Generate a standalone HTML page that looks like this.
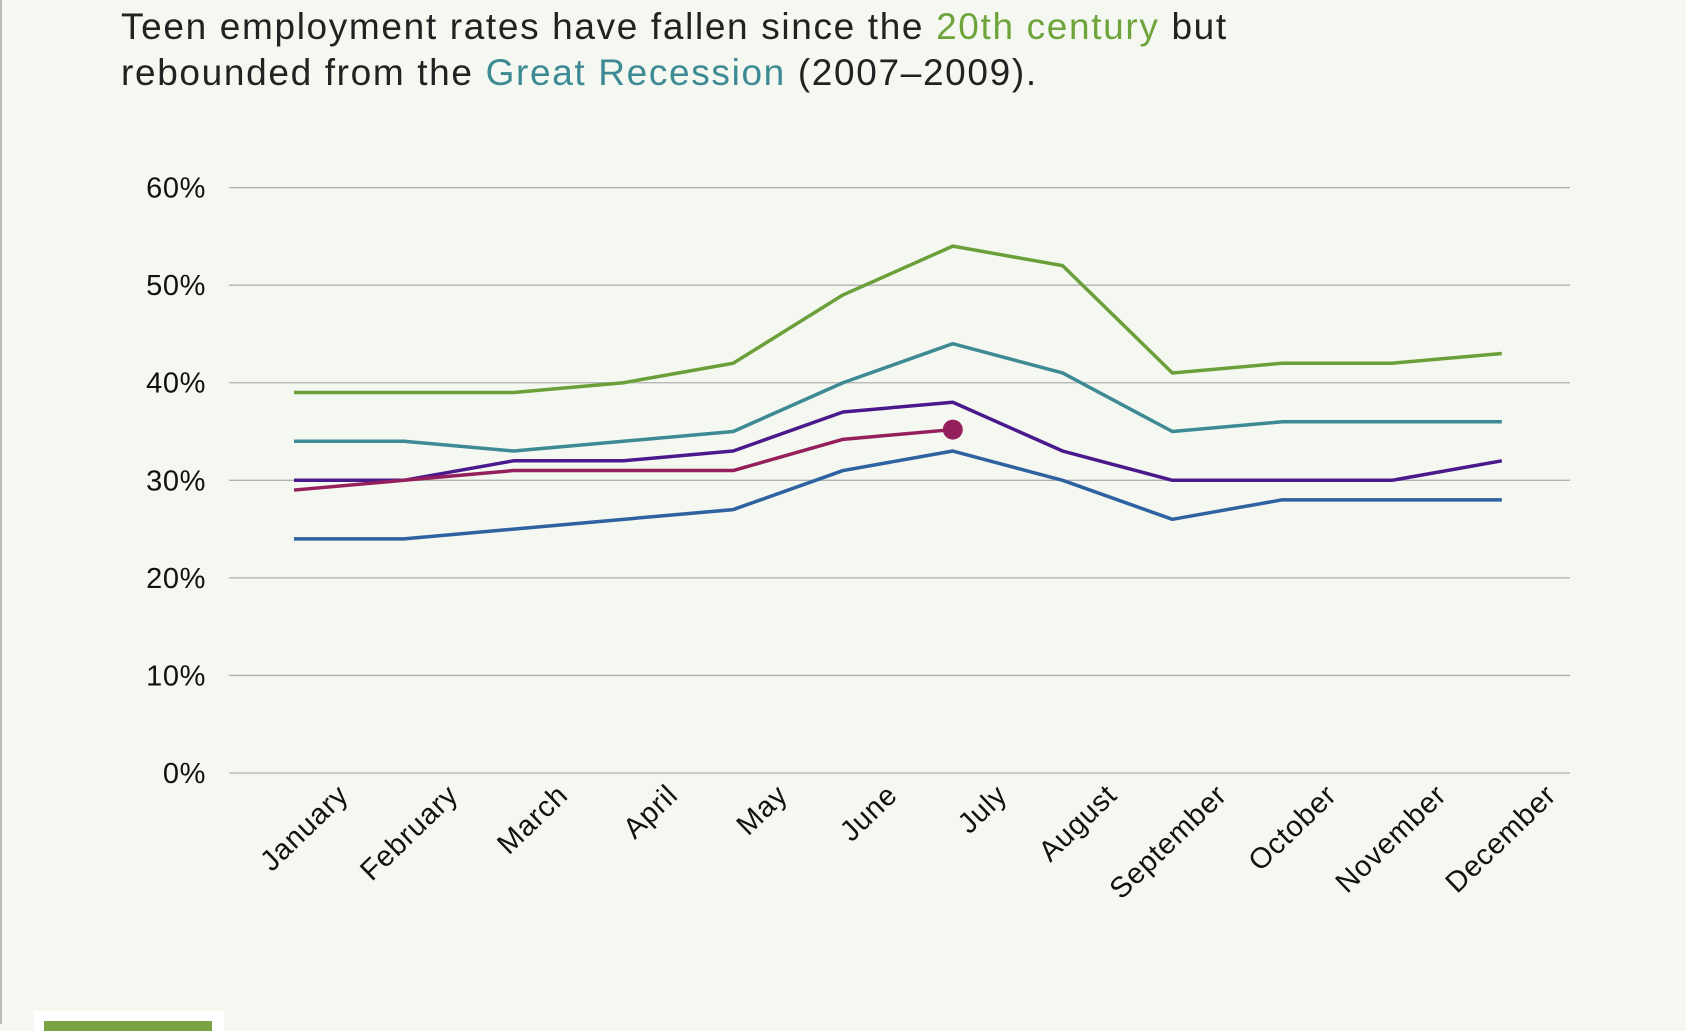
<!DOCTYPE html>
<html><head><meta charset="utf-8"><style>
html,body{margin:0;padding:0;background:#f4f8f1;}
body{width:1686px;height:1024px;overflow:hidden;position:relative;font-family:"Liberation Sans",sans-serif;}
#border{position:absolute;left:0;top:0;width:2px;height:1024px;background:#bbb;}
#title{position:absolute;left:121px;top:4px;font-size:37px;line-height:46px;color:#222;letter-spacing:1.65px;}
#logo{position:absolute;left:34px;top:1011px;width:190px;height:20px;background:#fff;}
#logo div{position:absolute;left:10px;top:10px;width:168px;height:10px;background:#7aa444;}
</style></head><body>
<div id="border"></div>
<div id="title">Teen employment rates have fallen since the <span style="color:#6fa33b">20th century</span> but<br>rebounded from the <span style="color:#3e8a94">Great Recession</span> (2007–2009).</div>
<svg id="chart" width="1686" height="1024" style="position:absolute;left:0;top:0"></svg>
<div id="logo"><div></div></div>
<script>
const months=["January","February","March","April","May","June","July","August","September","October","November","December"];
const yTicks=[0,10,20,30,40,50,60];
const green=[39,39,39,40,42,49,54,52,41,42,42,43];
const teal=[34,34,33,34,35,40,44,41,35,36,36,36];
const purple=[30,30,32,32,33,37,38,33,30,30,30,32];
const magenta=[29,30,31,31,31,34.2,35.2];
const blue=[24,24,25,26,27,31,33,30,26,28,28,28];
const NS="http://www.w3.org/2000/svg";
const svg=document.getElementById('chart');
const x=i=>294+i*109.8;
const y=v=>773-v*(773-187.6)/60;
function mk(t,a){const e=document.createElementNS(NS,t);for(const k in a)e.setAttribute(k,a[k]);svg.appendChild(e);return e;}
yTicks.forEach(v=>{
  const l=mk('line',{x1:229,x2:1570,y1:y(v),y2:y(v),stroke:'#b0b0b0','stroke-width':1.3});
  
  
  const t=mk('text',{x:206,y:y(v)+10,'text-anchor':'end','font-size':29,fill:'#111','letter-spacing':0.6,'font-family':'Liberation Sans, sans-serif'});
  t.textContent=v+'%';
  
  
});
months.forEach((m,i)=>{
  const t=mk('text',{'text-anchor':'end','font-size':29,fill:'#111','letter-spacing':0.8,'font-family':'Liberation Sans, sans-serif',transform:`translate(${x(i)+56},${797}) rotate(-44)`});
  t.textContent=m;
  
  
});
function series(d,c,n){
  const p=mk('polyline',{points:d.map((v,i)=>x(i)+','+y(v)).join(' '),fill:'none',stroke:c,'stroke-width':3.5,'stroke-linejoin':'round'});
  
  
}
series(green,'#6a9f3a','line-green');
series(teal,'#3e8a94','line-teal');
series(blue,'#2f62a0','line-blue');
series(purple,'#4a1a8c','line-purple');
series(magenta,'#951f5c','line-magenta');
const dot=mk('circle',{cx:x(magenta.length-1),cy:y(magenta[magenta.length-1]),r:10,fill:'#951f5c'});


</script>
</body></html>
